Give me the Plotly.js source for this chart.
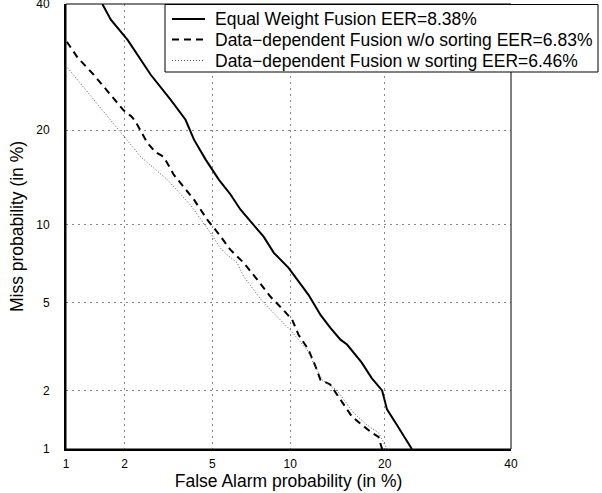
<!DOCTYPE html>
<html><head><meta charset="utf-8">
<script src="https://cdn.plot.ly/plotly-3.0.1.min.js"></script>
<style>html,body{margin:0;padding:0;background:#fff}#chart{width:602px;height:493px}</style>
</head><body><div id="chart"></div>
<script>
// Tick values (percent) and labels
const tickValues = [1, 2, 5, 10, 20, 40];
const tickLabels = ['1', '2', '5', '10', '20', '40'];

// Series names
const seriesNames = [
  'Equal Weight Fusion EER=8.38%',
  'Data\u2212dependent Fusion w/o sorting EER=6.83%',
  'Data\u2212dependent Fusion w sorting EER=6.46%'
];

// Equal Weight Fusion: false alarm % / miss %
const equalFA   = [1.55, 1.71, 2.07, 2.40, 2.67, 3.30, 3.84, 4.18, 4.69, 5.32, 5.94, 6.50, 7.56, 7.99, 8.72, 9.86, 10.58, 11.57, 12.70, 13.66, 14.74, 15.45, 17.1, 18.37, 19.66, 20.30, 21.63, 23.73];
const equalMiss = [40.0, 37.2, 33.7, 30.4, 28.0, 24.2, 21.4, 18.8, 16.4, 14.2, 12.7, 11.3, 9.6, 9.06, 7.89, 6.91, 6.21, 5.39, 4.44, 3.91, 3.46, 3.29, 2.73, 2.29, 2.0, 1.61, 1.34, 1.0];

// Data-dependent Fusion w/o sorting
const noSortFA   = [1.01, 1.15, 1.40, 1.71, 1.98, 2.15, 2.20, 2.31, 2.40, 2.56, 2.80, 3.07, 3.41, 4.18, 4.77, 5.3, 5.94, 6.69, 7.56, 8.48, 9.22, 10.15, 10.7, 11.57, 12.22, 12.70, 13.66, 14.74, 16.0, 17.18, 18.37, 19.2, 19.66];
const noSortMiss = [33.4, 30.8, 28.0, 24.9, 22.7, 21.9, 21.6, 20.7, 19.8, 18.5, 17.3, 16.7, 14.7, 12.2, 10.4, 9.3, 8.09, 7.24, 6.21, 5.29, 4.80, 4.24, 3.63, 3.12, 2.61, 2.25, 2.14, 1.80, 1.48, 1.34, 1.22, 1.16, 1.0];

// Data-dependent Fusion w sorting
const sortFA   = [1.02, 1.30, 1.65, 1.92, 2.40, 3.18, 4.04, 4.91, 5.40, 5.75, 6.30, 6.69, 7.99, 9.98, 11.43, 12.1, 12.86, 14.38, 16.17, 17.77, 19.2, 20.3];
const sortMiss = [29.1, 25.4, 21.8, 19.7, 16.7, 14.2, 11.7, 9.36, 8.22, 7.76, 7.24, 6.4, 4.99, 3.83, 3.12, 2.66, 2.25, 2.0, 1.55, 1.34, 1.22, 1.0];

// Inverse standard normal CDF (probit), Acklam's approximation
function norminv(p) {
  const a = [-3.969683028665376e+01, 2.209460984245205e+02, -2.759285104469687e+02, 1.383577518672690e+02, -3.066479806614716e+01, 2.506628277459239e+00];
  const b = [-5.447609879822406e+01, 1.615858368580409e+02, -1.556989798598866e+02, 6.680131188771972e+01, -1.328068155288572e+01];
  const c = [-7.784894002430293e-03, -3.223964580411365e-01, -2.400758277161838e+00, -2.549732539343734e+00, 4.374664141464968e+00, 2.938163982698783e+00];
  const d = [7.784695709041462e-03, 3.224671290700398e-01, 2.445134137142996e+00, 3.754408661907416e+00];
  const pl = 0.02425, ph = 1 - pl;
  let q, r;
  if (p < pl) {
    q = Math.sqrt(-2 * Math.log(p));
    return (((((c[0]*q+c[1])*q+c[2])*q+c[3])*q+c[4])*q+c[5]) / ((((d[0]*q+d[1])*q+d[2])*q+d[3])*q+1);
  }
  if (p <= ph) {
    q = p - 0.5; r = q * q;
    return (((((a[0]*r+a[1])*r+a[2])*r+a[3])*r+a[4])*r+a[5])*q / (((((b[0]*r+b[1])*r+b[2])*r+b[3])*r+b[4])*r+1);
  }
  q = Math.sqrt(-2 * Math.log(1 - p));
  return -(((((c[0]*q+c[1])*q+c[2])*q+c[3])*q+c[4])*q+c[5]) / ((((d[0]*q+d[1])*q+d[2])*q+d[3])*q+1);
}
const probit = pct => norminv(pct / 100);

const font = 'Liberation Sans, Arial, Helvetica, sans-serif';

const lineStyles = [
  {color: '#000', width: 2, dash: 'solid'},
  {color: '#000', width: 2, dash: '7px,5px'},
  {color: '#555', width: 1, dash: '1px,2px'}
];

const traces = [
  {x: equalFA.map(probit), y: equalMiss.map(probit), name: seriesNames[0], mode: 'lines', line: lineStyles[0]},
  {x: noSortFA.map(probit), y: noSortMiss.map(probit), name: seriesNames[1], mode: 'lines', line: lineStyles[1]},
  {x: sortFA.map(probit), y: sortMiss.map(probit), name: seriesNames[2], mode: 'lines', line: lineStyles[2]}
];

const lo = probit(tickValues[0]) - 1e-4;
const hi = probit(tickValues[tickValues.length - 1]) + 1e-4;

const axisCommon = {
  tickmode: 'array',
  tickvals: tickValues.map(probit),
  ticktext: tickLabels,
  range: [lo, hi],
  showgrid: true, gridcolor: '#888', gridwidth: 1, griddash: '2px,4px',
  zeroline: false,
  showline: true, linecolor: '#000', linewidth: 2, mirror: false,
  ticks: 'outside', tickcolor: 'rgba(0,0,0,0)',
  ticklabeloverflow: 'allow',
  tickfont: {family: font, size: 12, color: '#000'}
};

// Legend box (drawn with shapes + annotations), positions in paper units
const plotL = 66, plotT = 4, plotW = 445, plotH = 445;
const px = x => (x - plotL) / plotW;
const py = y => 1 - (y - plotT) / plotH;
const rowY = [19, 39.5, 60.5];

const shapes = [
  {type: 'rect', xref: 'paper', yref: 'paper', x0: 0, x1: 1, y0: 0, y1: 1,
   line: {color: '#000', width: 1}, layer: 'above'},
  {type: 'rect', xref: 'paper', yref: 'paper', x0: px(165), x1: px(598), y0: py(72), y1: py(4.5),
   fillcolor: '#fff', line: {color: '#000', width: 1}, layer: 'above'}
];
const annotations = [];
seriesNames.forEach((nm, i) => {
  shapes.push({type: 'line', xref: 'paper', yref: 'paper', x0: px(172), x1: px(205), y0: py(rowY[i]), y1: py(rowY[i]),
    line: lineStyles[i], layer: 'above'});
  annotations.push({xref: 'paper', yref: 'paper', x: px(213), y: py(rowY[i]), xanchor: 'left', yanchor: 'middle',
    text: nm, showarrow: false, font: {family: font, size: 17.5, color: '#000'}});
});

const layout = {
  width: 602, height: 493,
  margin: {l: plotL, r: 602 - plotL - plotW, t: plotT, b: 493 - plotT - plotH},
  paper_bgcolor: '#fff', plot_bgcolor: '#fff',
  font: {family: font, color: '#000'},
  showlegend: false,
  xaxis: Object.assign({}, axisCommon, {ticklen: 3,
    title: {text: 'False Alarm probability (in %)', font: {family: font, size: 17.5, color: '#000'}, standoff: 2}}),
  yaxis: Object.assign({}, axisCommon, {ticklen: 12,
    title: {text: 'Miss probability (in %)', font: {family: font, size: 17.5, color: '#000'}, standoff: 8}}),
  shapes: shapes,
  annotations: annotations
};

Plotly.newPlot('chart', traces, layout, {displayModeBar: false, staticPlot: true});
</script>
</body></html>
